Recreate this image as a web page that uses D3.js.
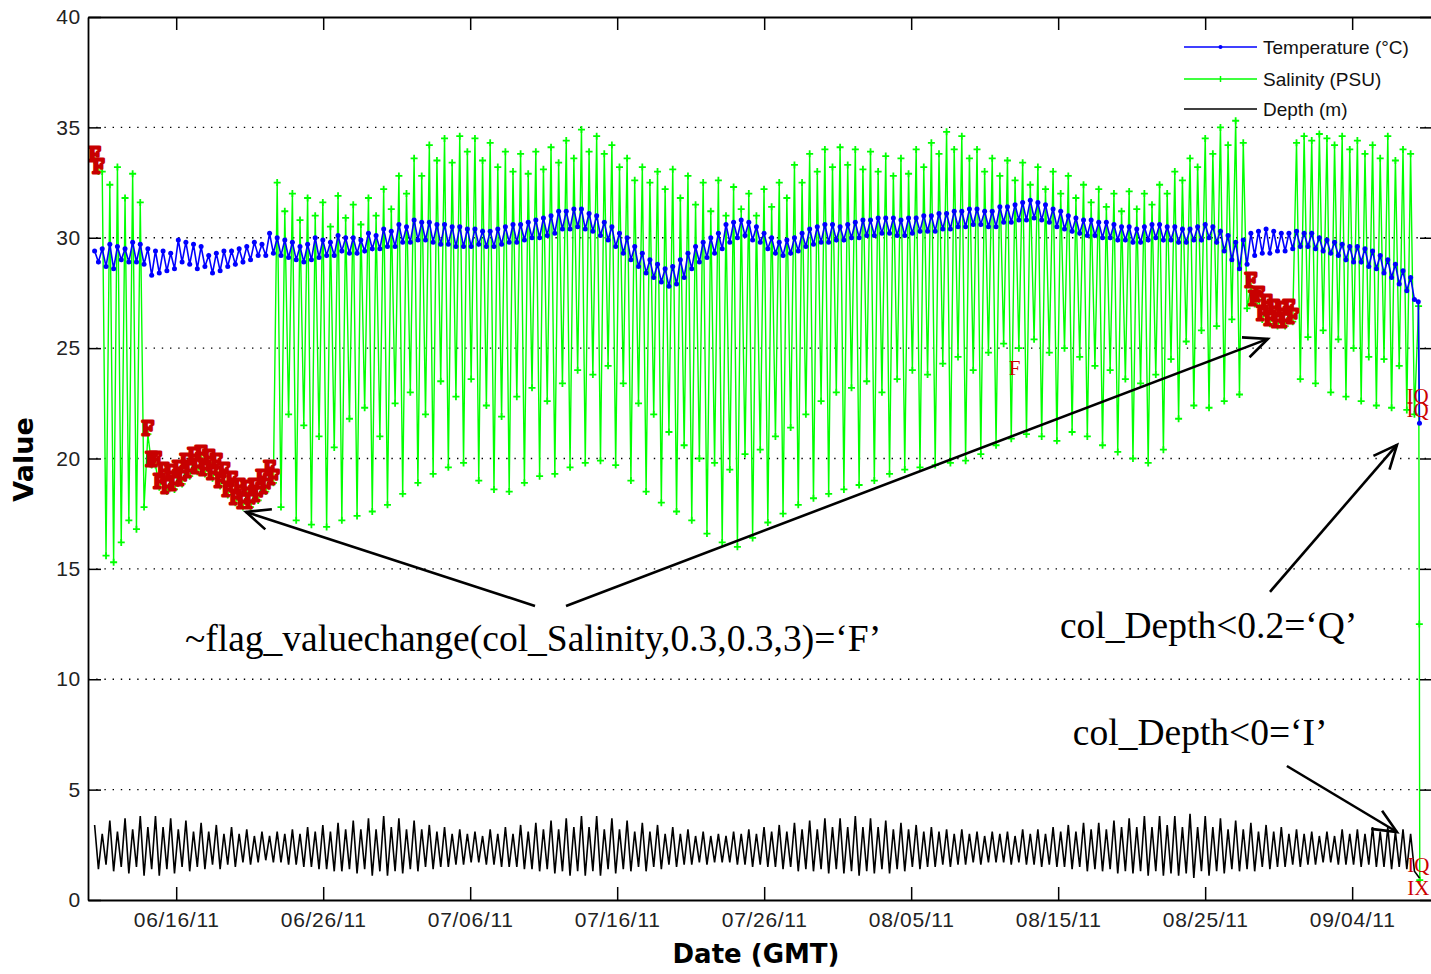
<!DOCTYPE html>
<html><head><meta charset="utf-8">
<script src="https://cdn.jsdelivr.net/npm/d3@7"></script>
<style>html,body{margin:0;padding:0;background:#fff;} svg{display:block;}</style>
</head><body>
<svg id="c" width="1431" height="974"></svg>
<script>
// ---------------- DATA ----------------
const startDateUTC = [2011, 5, 10];        // 06/10/11 00:00 GMT (x-axis origin)
const domainDays = 91.5;                    // visible span of x axis in days
const firstTideDay = 0.45;                  // first sample (days after origin)
const tidePeriodDays = 0.5175;              // semidiurnal cycle (12.42 h)

// Salinity (PSU): value at each flood (high) and ebb (low) of every tidal cycle
const salHigh = [
 33.5,33.0,32.4,33.2,31.8,32.9,31.6,
 21.1,19.7,19.2,19.1,19.3,19.6,19.9,20.0,19.8,19.6,19.2,18.8,18.5,18.4,18.5,18.9,19.3,
 32.5,31.2,32.0,30.8,31.8,31.0,31.6,30.5,31.9,30.9,31.5,30.6,31.8,31.0,32.2,31.3,32.8,32.0,33.6,32.8,34.2,33.5,34.5,33.4,34.6,33.9,34.5,33.5,
 34.3,33.2,33.9,33.0,33.8,32.9,33.9,33.1,34.1,33.4,34.4,33.6,34.9,33.9,34.6,33.8,34.2,33.2,33.6,32.6,33.2,32.5,33.0,32.2,33.1,31.8,32.8,31.5,
 32.5,31.2,32.6,31.0,32.3,31.3,32.0,31.0,32.2,31.4,32.5,31.8,33.3,32.5,33.8,33.0,34.0,33.2,34.1,33.3,34.0,33.1,33.9,33.0,33.7,32.8,33.6,32.9,
 34.0,33.2,34.3,33.8,34.8,34.0,34.6,33.6,34.0,33.0,33.6,32.8,33.5,32.6,33.4,32.4,33.2,32.2,33.0,32.0,32.8,31.8,32.4,31.6,32.2,31.4,32.0,31.2,
 32.1,31.3,32.0,31.5,32.4,32.0,33.0,32.6,33.6,33.2,34.5,33.8,35.0,34.2,35.3,34.3,
 27.8,27.2,26.8,26.6,26.5,26.6,
 34.3,34.6,34.4,34.7,34.5,34.2,34.6,34.0,34.4,33.8,34.2,33.6,34.6,33.5,34.0,33.8
];
const salLow = [
 33.0,15.6,15.3,16.2,17.2,16.8,17.8,
 19.7,18.7,18.5,18.6,18.85,19.2,19.4,19.3,19.1,18.75,18.35,18.0,17.8,17.8,18.1,18.5,18.9,
 17.8,22.0,17.2,21.5,17.0,21.0,16.9,20.5,17.2,21.8,17.4,22.3,17.6,21.0,17.9,22.5,18.4,23.0,18.9,22.0,19.3,23.5,19.6,22.8,19.8,23.6,19.0,22.4,
 18.6,21.9,18.5,22.8,18.9,23.2,19.2,22.6,19.3,23.4,19.6,24.0,19.8,23.8,19.9,24.2,19.7,23.4,19.0,22.5,18.5,22.0,18.0,21.2,17.6,20.6,17.2,20.0,
 16.6,19.8,16.2,19.5,16.0,20.2,16.4,20.4,17.1,21.0,17.5,21.4,17.9,22.0,18.2,22.6,18.4,23.0,18.6,23.2,18.8,23.5,19.0,23.0,19.3,23.6,19.5,24.0,
 19.6,23.8,19.7,24.3,19.8,24.6,19.9,24.0,20.2,24.8,20.6,25.2,20.9,25.0,21.1,25.4,21.0,24.8,20.8,25.0,21.2,24.6,21.0,24.2,20.6,24.0,20.3,23.6,
 20.0,23.4,19.8,23.8,20.4,24.5,21.8,25.3,22.4,25.8,22.3,26.0,22.6,26.3,22.9,26.8,
 27.0,26.3,26.1,26.0,26.0,26.2,
 23.6,25.5,23.4,25.8,23.0,25.4,22.8,25.0,22.6,24.6,22.4,24.5,22.3,24.2,22.2,22.0
];
const salEnd = [[90.52, 26.9], [90.57, 12.5], [90.60, 0.9]];   // [day, PSU]

// Temperature (°C): value at high-tide and low-tide time of every tidal cycle
const tempHigh = [
 29.4,29.5,29.7,29.6,29.5,29.8,29.7,29.5,29.4,29.4,
 29.3,29.9,29.8,29.7,29.6,29.2,29.3,29.4,29.4,29.5,
 29.6,29.8,29.7,30.2,30.0,29.9,29.8,29.6,29.7,30.0,
 29.9,29.8,30.1,30.0,30.0,29.9,30.2,30.1,30.4,30.3,
 30.6,30.5,30.8,30.7,30.7,30.6,30.6,30.5,30.5,30.4,
 30.4,30.3,30.3,30.4,30.5,30.6,30.6,30.7,30.8,30.9,
 31.0,31.2,31.2,31.3,31.3,31.1,31.0,30.7,30.5,30.2,
 30.0,29.6,29.3,29.0,28.8,28.6,28.7,29.0,29.3,29.6,
 29.8,30.0,30.2,30.6,30.7,30.8,30.7,30.5,30.2,30.0,
 29.8,29.9,30.0,30.2,30.4,30.5,30.6,30.6,30.5,30.6,
 30.7,30.8,30.8,30.9,30.9,30.9,30.8,30.9,30.9,31.0,
 31.0,31.1,31.1,31.2,31.2,31.3,31.3,31.2,31.2,31.4,
 31.4,31.5,31.6,31.7,31.6,31.5,31.3,31.2,31.0,30.9,
 30.8,30.8,30.7,30.7,30.6,30.5,30.5,30.4,30.5,30.6,
 30.6,30.5,30.5,30.4,30.4,30.5,30.6,30.5,30.3,30.1,
 29.8,29.9,30.2,30.3,30.4,30.3,30.2,30.2,30.3,30.2,
 30.2,30.0,29.9,29.8,29.7,29.6,29.6,29.5,29.4,29.2,
 29.0,28.8,28.5,28.2
];
const tempLow = [
 28.9,28.7,28.6,29.0,28.9,28.9,28.8,28.3,28.4,28.5,
 28.6,28.9,28.8,28.6,28.7,28.4,28.5,28.7,28.8,28.9,
 29.0,29.2,29.2,29.3,29.2,29.1,29.0,28.9,29.0,29.1,
 29.2,29.2,29.4,29.3,29.3,29.4,29.5,29.5,29.6,29.6,
 29.8,29.8,29.9,29.9,29.8,29.7,29.7,29.6,29.6,29.6,
 29.7,29.6,29.6,29.7,29.8,29.8,29.9,30.0,30.0,30.1,
 30.2,30.4,30.4,30.5,30.4,30.3,30.1,29.9,29.6,29.3,
 29.0,28.7,28.4,28.2,28.0,27.8,27.9,28.2,28.6,28.9,
 29.1,29.3,29.5,29.8,30.0,30.1,29.9,29.8,29.5,29.3,
 29.2,29.3,29.4,29.6,29.7,29.8,29.8,29.9,29.9,30.0,
 30.0,30.1,30.1,30.2,30.2,30.1,30.1,30.2,30.3,30.3,
 30.3,30.4,30.4,30.5,30.5,30.6,30.6,30.5,30.5,30.7,
 30.7,30.8,30.8,30.9,30.8,30.7,30.5,30.4,30.3,30.2,
 30.1,30.1,30.0,30.0,29.9,29.9,29.8,29.8,29.9,30.0,
 29.9,29.9,29.8,29.8,29.9,29.9,30.0,29.8,29.4,29.0,
 28.6,28.8,29.2,29.3,29.3,29.4,29.4,29.5,29.6,29.6,
 29.5,29.4,29.3,29.2,29.0,28.9,28.9,28.7,28.6,28.4,
 28.2,27.9,27.6,27.2
];
const tempEnd = [[90.5, 27.1], [90.58, 21.6]];

// Depth (m): high water and low water of every tidal cycle
const depthHigh = [
 3.4,3.0,3.6,3.1,3.7,3.2,3.8,3.3,3.8,3.3,3.7,
 3.2,3.6,3.1,3.5,3.1,3.4,3.0,3.3,3.0,3.2,2.9,
 3.1,2.9,3.1,3.0,3.2,3.0,3.3,3.1,3.4,3.1,3.5,3.2,3.6,3.2,
 3.7,3.2,3.8,3.3,3.7,3.2,3.6,3.2,3.4,3.1,3.3,3.0,3.2,3.0,
 3.1,2.9,3.2,3.0,3.3,3.0,3.4,3.1,3.5,3.2,3.6,3.2,3.7,3.3,3.8,
 3.3,3.8,3.2,3.7,3.2,3.6,3.1,3.5,3.1,3.4,3.0,3.3,3.0,3.2,2.9,3.1,2.9,
 3.0,2.9,3.1,3.0,3.2,3.0,3.3,3.1,3.4,3.1,3.5,3.2,3.6,3.2,3.7,3.3,3.7,3.3,
 3.8,3.3,3.7,3.3,3.6,3.2,3.5,3.2,3.4,3.1,3.3,3.1,3.2,3.0,3.2,3.0,3.1,2.9,3.1,
 3.0,3.1,2.9,3.2,3.0,3.2,3.0,3.3,3.1,3.4,3.1,3.5,3.2,3.5,3.2,3.6,3.3,3.7,3.3,3.8,3.3,3.8,3.4,3.8,
 3.3,3.9,3.3,3.8,3.3,3.7,3.2,3.6,3.2,3.5,3.1,3.4,3.1,3.3,3.0,3.2,3.0,3.1,2.9,
 3.1,2.9,3.2,3.0,3.2,3.0,3.3,3.1,3.3,3.1,3.2,3.0
];
const depthLow = [
 1.4,1.6,1.3,1.5,1.2,1.5,1.1,1.4,1.1,1.4,1.2,
 1.5,1.3,1.5,1.4,1.6,1.4,1.6,1.5,1.7,1.6,1.7,
 1.8,1.7,1.7,1.6,1.6,1.5,1.5,1.4,1.4,1.3,1.3,1.4,1.2,1.4,
 1.1,1.3,1.1,1.3,1.2,1.4,1.3,1.5,1.4,1.5,1.5,1.6,1.6,1.7,
 1.7,1.6,1.6,1.5,1.5,1.5,1.4,1.4,1.3,1.4,1.2,1.3,1.1,1.3,1.1,
 1.3,1.1,1.4,1.2,1.4,1.3,1.5,1.3,1.5,1.4,1.6,1.5,1.6,1.6,1.7,1.6,1.7,
 1.7,1.7,1.6,1.6,1.5,1.6,1.5,1.5,1.4,1.5,1.3,1.4,1.3,1.4,1.2,1.4,1.2,1.3,
 1.1,1.3,1.2,1.4,1.2,1.4,1.3,1.5,1.4,1.5,1.5,1.6,1.5,1.6,1.6,1.7,1.6,1.7,1.7,
 1.7,1.6,1.7,1.6,1.6,1.5,1.6,1.5,1.5,1.4,1.5,1.3,1.4,1.3,1.4,1.2,1.3,1.2,1.3,1.1,1.3,1.1,1.2,1.1,
 1.2,1.0,1.3,1.1,1.3,1.2,1.4,1.3,1.4,1.3,1.5,1.4,1.5,1.5,1.6,1.5,1.6,1.6,1.7,
 1.7,1.6,1.6,1.6,1.5,1.6,1.5,1.5,1.4,1.5,1.4,1.3
];
const depthEnd = [[90.58, 1.0]];

// QC flags: tidal-cycle ranges of salinity flagged 'F' (each flagged sample is labelled with a red 'F')
const flagFCycles = [[0, 0], [7, 23], [152, 157]];
// other flag labels: [day, value, text]
const flagLabels = [[63.03, 23.8, "F"], [90.45, 22.5, "IQ"], [90.45, 21.9, "IQ"], [90.5, 1.27, "IQ"], [90.5, 0.23, "IX"]];

// Axis ticks
const xTickDates = ["2011-06-16","2011-06-26","2011-07-06","2011-07-16","2011-07-26","2011-08-05","2011-08-15","2011-08-25","2011-09-04"];
const yTicks = [0, 5, 10, 15, 20, 25, 30, 35, 40];
const yGrid = [5, 10, 15, 20, 25, 30, 35];
const seriesNames = ["Temperature (\u00B0C)", "Salinity (PSU)", "Depth (m)"];
const xTitle = "Date (GMT)";
const yTitle = "Value";

// Annotations: text [day, value, text] and arrows [[tail day, value], [tip day, value]]
const annoTexts = [
  [6.6, 11.28, "~flag_valuechange(col_Salinity,0.3,0.3,3)=\u2018F\u2019"],
  [66.12, 11.87, "col_Depth<0.2=\u2018Q\u2019"],
  [67.0, 7.02, "col_Depth<0=\u2018I\u2019"]
];
const annoArrows = [
  [[30.41, 13.32], [10.75, 17.58]],
  [[32.52, 13.32], [80.27, 25.42]],
  [[80.41, 13.96], [89.05, 20.62]],
  [[81.56, 6.07], [89.05, 3.08]]
];

// ---------------- CHART ----------------
if ([salHigh, salLow, depthHigh, depthLow, tempHigh, tempLow].some(a => a.length !== 174)) {
  throw new Error("length mismatch " + [salHigh, salLow, depthHigh, depthLow, tempHigh, tempLow].map(a => a.length));
}
const DAY = 86400000;
const t0 = Date.UTC(...startDateUTC);
const toDate = d => new Date(t0 + d * DAY);
const L = 88, T = 17, R = 1433, B = 900;

const x = d3.scaleUtc().domain([toDate(0), toDate(domainDays)]).range([L, R]);
const y = d3.scaleLinear().domain([0, 40]).range([B, T]);
const px = d => x(toDate(d));

const svg = d3.select("#c");
svg.append("defs").append("clipPath").attr("id", "clip")
  .append("rect").attr("x", L).attr("y", T).attr("width", R - L).attr("height", B - T);

// grid
svg.append("g").selectAll("line").data(yGrid).join("line")
  .attr("x1", L).attr("x2", R).attr("y1", d => y(d)).attr("y2", d => y(d))
  .attr("stroke", "#000").attr("stroke-width", 1.4).attr("stroke-dasharray", "1.4,6.8");

// build series from the tidal-cycle tables
const inFlag = i => flagFCycles.some(([a, b]) => i >= a && i <= b);
function tidal(hi, lo, extra, flag) {
  const out = [];
  hi.forEach((v, i) => {
    const d = firstTideDay + i * tidePeriodDays;
    out.push({day: d, v: v, f: flag && inFlag(i)});
    out.push({day: d + tidePeriodDays / 2, v: lo[i], f: flag && inFlag(i)});
  });
  extra.forEach(([d, v]) => out.push({day: d, v: v, f: false}));
  return out;
}
const sal = tidal(salHigh, salLow, salEnd, true);
const tmp = tidal(tempHigh, tempLow, tempEnd, false);
const dep = tidal(depthHigh, depthLow, depthEnd, false);

const line = d3.line().x(d => px(d.day)).y(d => y(d.v));
const plot = svg.append("g").attr("clip-path", "url(#clip)");

// salinity
plot.append("path").datum(sal).attr("d", line).attr("fill", "none")
  .attr("stroke", "#00ff00").attr("stroke-width", 1.4);
plot.append("g").selectAll("path").data(sal).join("path")
  .attr("transform", d => `translate(${px(d.day)},${y(d.v)})`)
  .attr("d", "M-3.5,0H3.5M0,-3.5V3.5").attr("stroke", "#00ff00").attr("stroke-width", 1.8);

// temperature
plot.append("path").datum(tmp).attr("d", line).attr("fill", "none")
  .attr("stroke", "#0000ff").attr("stroke-width", 1.6);
plot.append("g").selectAll("circle").data(tmp).join("circle")
  .attr("cx", d => px(d.day)).attr("cy", d => y(d.v)).attr("r", 2.5).attr("fill", "#0000ff");

// depth
plot.append("path").datum(dep).attr("d", line).attr("fill", "none")
  .attr("stroke", "#000").attr("stroke-width", 1.6);

// flagged salinity samples: a red 'F' at every flagged sample (they pile up into a solid band)
const flagFont = "'Liberation Serif','Times New Roman',serif";
plot.append("g").selectAll("text").data(sal.filter(p => p.f)).join("text")
  .attr("x", d => px(d.day)).attr("y", d => y(d.v) + 1)
  .attr("text-anchor", "middle").attr("font-family", flagFont).attr("font-size", 21)
  .attr("fill", "#c80000").attr("stroke", "#c80000").attr("stroke-width", 3.2)
  .attr("stroke-linejoin", "round").text("F");
plot.append("g").selectAll("text").data(flagLabels).join("text")
  .attr("x", d => px(d[0])).attr("y", d => y(d[1]))
  .attr("text-anchor", "middle").attr("font-family", flagFont).attr("font-size", 21)
  .attr("fill", "#cc0000").text(d => d[2]);

// axes
const tickFont = "'Liberation Sans',Arial,sans-serif";
function styleAxis(g, labels) {
  g.select(".domain").attr("stroke", "#000").attr("stroke-width", 1.8);
  g.selectAll(".tick line").attr("stroke", "#000").attr("stroke-width", 1.5);
  g.selectAll(".tick text").attr("font-family", tickFont).attr("font-size", 21)
    .attr("fill", "#222").attr("letter-spacing", "0.7px");
  if (!labels) g.selectAll(".tick text").remove();
}
const xTicks = xTickDates.map(s => new Date(s + "T00:00:00Z"));
const fmt = d3.utcFormat("%m/%d/%y");
svg.append("g").attr("transform", `translate(0,${B})`)
  .call(d3.axisBottom(x).tickValues(xTicks).tickFormat(fmt).tickSizeInner(-13).tickSizeOuter(0).tickPadding(12))
  .call(g => styleAxis(g, true));
svg.append("g").attr("transform", `translate(0,${T})`)
  .call(d3.axisTop(x).tickValues(xTicks).tickSizeInner(-13).tickSizeOuter(0))
  .call(g => styleAxis(g, false));
svg.append("g").attr("transform", `translate(${L},0)`)
  .call(d3.axisLeft(y).tickValues(yTicks).tickFormat(d3.format("d")).tickSizeInner(-13).tickSizeOuter(0).tickPadding(7))
  .call(g => styleAxis(g, true));
svg.append("g").attr("transform", `translate(${R},0)`)
  .call(d3.axisRight(y).tickValues(yTicks).tickSizeInner(-13).tickSizeOuter(0))
  .call(g => styleAxis(g, false));

// axis titles
const titleFont = "'DejaVu Sans',Verdana,sans-serif";
svg.append("text").attr("x", 756).attr("y", 963).attr("text-anchor", "middle")
  .attr("font-family", titleFont).attr("font-weight", "bold").attr("font-size", 26).text(xTitle);
svg.append("text").attr("transform", `translate(33,${(T + B) / 2 + 1}) rotate(-90)`).attr("text-anchor", "middle")
  .attr("font-family", titleFont).attr("font-weight", "bold").attr("font-size", 27).text(yTitle);

// legend
const legColors = ["#0000ff", "#00ff00", "#000"];
const legY = [47, 79, 109];
const leg = svg.append("g");
seriesNames.forEach((n, i) => {
  leg.append("line").attr("x1", 1184).attr("x2", 1257).attr("y1", legY[i]).attr("y2", legY[i])
    .attr("stroke", legColors[i]).attr("stroke-width", 1.5);
  if (i === 0) leg.append("circle").attr("cx", 1220.5).attr("cy", legY[i]).attr("r", 2).attr("fill", legColors[i]);
  if (i === 1) leg.append("path").attr("transform", `translate(1220.5,${legY[i]})`).attr("d", "M0,-3V3").attr("stroke", legColors[i]).attr("stroke-width", 1.5);
  leg.append("text").attr("x", 1263).attr("y", legY[i] + 7).attr("font-family", tickFont)
    .attr("font-size", 19).attr("fill", "#111").text(n);
});

// annotations
const ann = svg.append("g");
ann.selectAll("text").data(annoTexts).join("text")
  .attr("x", d => px(d[0])).attr("y", d => y(d[1]))
  .attr("font-family", flagFont).attr("font-size", 37.5).attr("fill", "#000").text(d => d[2]);
annoArrows.forEach(([a, b]) => {
  const x1 = px(a[0]), y1 = y(a[1]), x2 = px(b[0]), y2 = y(b[1]);
  const ang = Math.atan2(y1 - y2, x1 - x2);
  const hl = 26, hw = 0.42;
  ann.append("line").attr("x1", x1).attr("y1", y1).attr("x2", x2).attr("y2", y2)
    .attr("stroke", "#000").attr("stroke-width", 2.6);
  ann.append("path")
    .attr("d", `M${x2 + hl * Math.cos(ang + hw)},${y2 + hl * Math.sin(ang + hw)}L${x2},${y2}L${x2 + hl * Math.cos(ang - hw)},${y2 + hl * Math.sin(ang - hw)}`)
    .attr("fill", "none").attr("stroke", "#000").attr("stroke-width", 2.6);
});
</script>
</body></html>
